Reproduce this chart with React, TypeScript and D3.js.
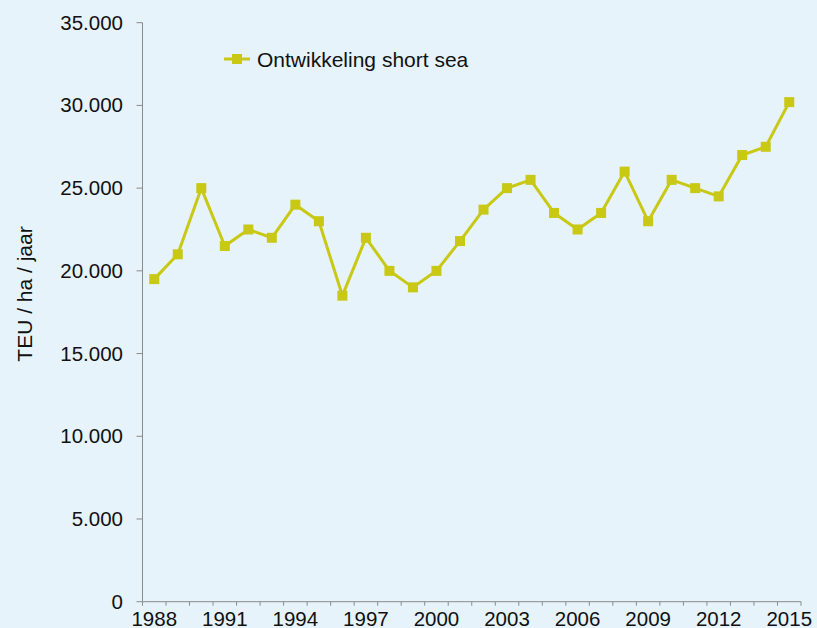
import React, { useEffect, useRef } from "react";
import * as d3 from "d3";

const years = [
  1988, 1989, 1990, 1991, 1992, 1993, 1994, 1995, 1996, 1997, 1998, 1999, 2000, 2001,
  2002, 2003, 2004, 2005, 2006, 2007, 2008, 2009, 2010, 2011, 2012, 2013, 2014, 2015,
];
const shortSea = [
  19500, 21000, 25000, 21500, 22500, 22000, 24000, 23000, 18500, 22000, 20000, 19000, 20000, 21800,
  23700, 25000, 25500, 23500, 22500, 23500, 26000, 23000, 25500, 25000, 24500, 27000, 27500, 30200,
];
const yTicks = [0, 5000, 10000, 15000, 20000, 25000, 30000, 35000];
const xLabelYears = [1988, 1991, 1994, 1997, 2000, 2003, 2006, 2009, 2012, 2015];
const seriesName = "Ontwikkeling short sea";
const yTitle = "TEU / ha / jaar";

const App = () => {
  const ref = useRef(null);

  useEffect(() => {
    document.body.style.margin = "0";
    const width = 817;
    const height = 628;
    const left = 142.5;
    const right = 801;
    const top = 22.7;
    const bottom = 601.7;
    const font = "'Liberation Sans', Arial, Helvetica, sans-serif";
    const green = "#c8c815";
    const axisColor = "#8a8a8a";

    d3.select(ref.current).selectAll("*").remove();
    const svg = d3
      .select(ref.current)
      .append("svg")
      .attr("width", width)
      .attr("height", height)
      .style("display", "block");

    svg.append("rect").attr("width", width).attr("height", height).attr("fill", "#e6f3fa");

    const x = d3.scaleBand<number>().domain(years).range([left, right]).padding(0);
    const y = d3.scaleLinear().domain([0, 35000]).range([bottom, top]);
    const nl = d3.formatLocale({ decimal: ",", thousands: ".", grouping: [3], currency: ["€", ""] });
    const fmt = nl.format(",");

    // y axis
    svg
      .append("line")
      .attr("x1", left)
      .attr("x2", left)
      .attr("y1", top)
      .attr("y2", bottom)
      .attr("stroke", axisColor)
      .attr("stroke-width", 1);

    const yg = svg.append("g");
    yg.selectAll("line")
      .data(yTicks)
      .enter()
      .append("line")
      .attr("x1", left - 6)
      .attr("x2", left)
      .attr("y1", (d) => y(d))
      .attr("y2", (d) => y(d))
      .attr("stroke", axisColor);
    yg.selectAll("text")
      .data(yTicks)
      .enter()
      .append("text")
      .attr("x", 123)
      .attr("y", (d) => y(d) + 7)
      .attr("text-anchor", "end")
      .style("font-family", font)
      .style("font-size", "20.5px")
      .attr("fill", "#111")
      .text((d) => fmt(d));

    // x axis
    svg
      .append("line")
      .attr("x1", left)
      .attr("x2", right)
      .attr("y1", bottom)
      .attr("y2", bottom)
      .attr("stroke", axisColor);

    const bounds = years.map((yr) => x(yr) as number).concat([right]);
    svg
      .append("g")
      .selectAll("line")
      .data(bounds)
      .enter()
      .append("line")
      .attr("x1", (d) => d)
      .attr("x2", (d) => d)
      .attr("y1", bottom)
      .attr("y2", bottom + 4)
      .attr("stroke", axisColor);

    svg
      .append("g")
      .selectAll("text")
      .data(xLabelYears)
      .enter()
      .append("text")
      .attr("x", (d) => (x(d) as number) + x.bandwidth() / 2)
      .attr("y", 626)
      .attr("text-anchor", "middle")
      .style("font-family", font)
      .style("font-size", "20.5px")
      .attr("fill", "#111")
      .text((d) => d);

    // y title
    svg
      .append("text")
      .attr("transform", `translate(32,294) rotate(-90)`)
      .attr("text-anchor", "middle")
      .style("font-family", font)
      .style("font-size", "21px")
      .attr("fill", "#111")
      .text(yTitle);

    // series
    const cx = (i: number) => (x(years[i]) as number) + x.bandwidth() / 2;
    const line = d3
      .line<number>()
      .x((d, i) => cx(i))
      .y((d) => y(d));

    svg
      .append("path")
      .attr("d", line(shortSea))
      .attr("fill", "none")
      .attr("stroke", green)
      .attr("stroke-width", 3)
      .attr("stroke-linejoin", "round");

    svg
      .append("g")
      .selectAll("rect")
      .data(shortSea)
      .enter()
      .append("rect")
      .attr("x", (d, i) => cx(i) - 5)
      .attr("y", (d) => y(d) - 5)
      .attr("width", 10)
      .attr("height", 10)
      .attr("fill", green);

    // legend
    const lg = svg.append("g").attr("transform", "translate(224,59)");
    lg.append("line")
      .attr("x1", 0)
      .attr("x2", 26)
      .attr("y1", 0)
      .attr("y2", 0)
      .attr("stroke", green)
      .attr("stroke-width", 3);
    lg.append("rect").attr("x", 8).attr("y", -5).attr("width", 10).attr("height", 10).attr("fill", green);
    lg.append("text")
      .attr("x", 33)
      .attr("y", 7.5)
      .style("font-family", font)
      .style("font-size", "21px")
      .attr("fill", "#111")
      .text(seriesName);
  }, []);

  return <div ref={ref}></div>;
};

export default App;
